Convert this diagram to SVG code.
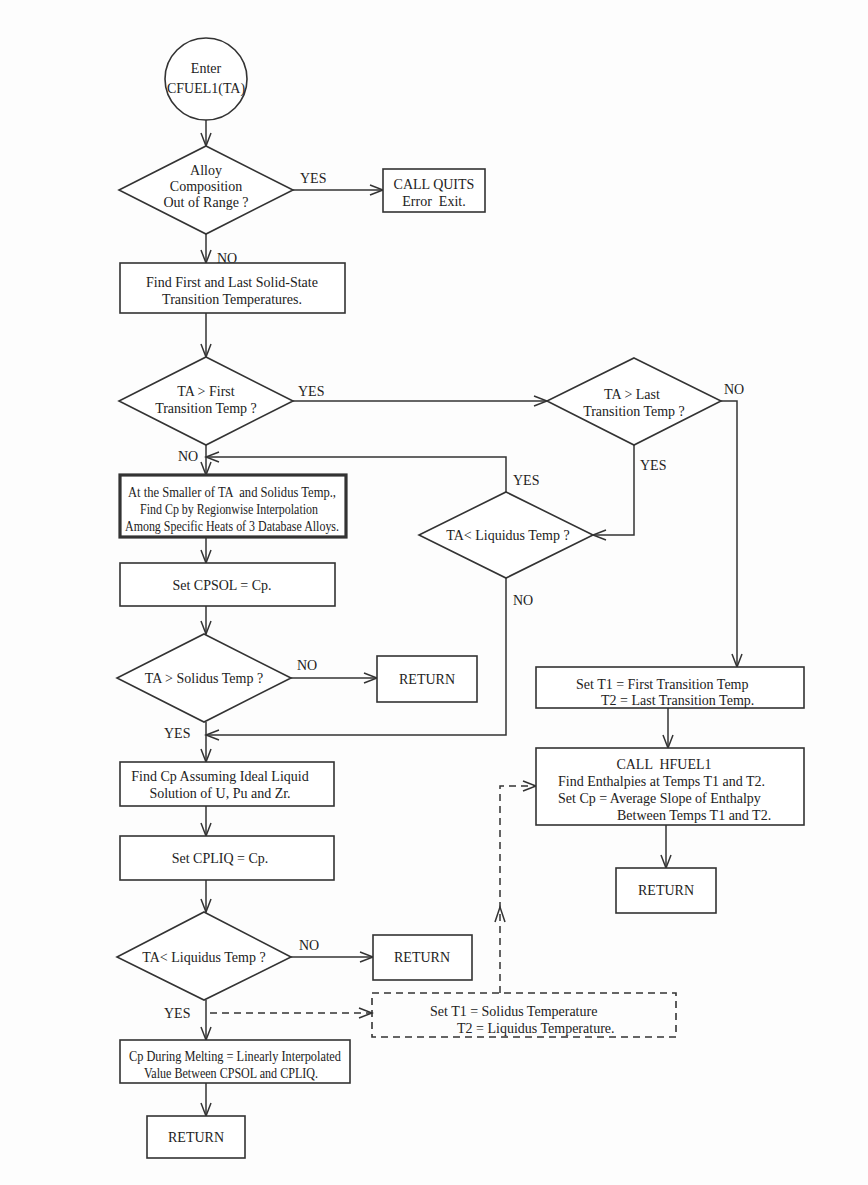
<svg xmlns="http://www.w3.org/2000/svg" width="868" height="1185" viewBox="0 0 868 1185">
<defs>
<style>
.shape{fill:#fff;stroke:#333;stroke-width:1.6}
.thick{fill:#fff;stroke:#333;stroke-width:3.2}
.dbox{fill:none;stroke:#333;stroke-width:1.6;stroke-dasharray:7,5}
.ln{fill:none;stroke:#333;stroke-width:1.5}
.dl{fill:none;stroke:#333;stroke-width:1.5;stroke-dasharray:7,5}
text{font-family:"Liberation Serif","Times New Roman",serif;font-size:14px;fill:#222}
.c{text-anchor:middle}
</style>
<marker id="ah" markerUnits="userSpaceOnUse" markerWidth="16" markerHeight="14" refX="14" refY="6" orient="auto">
<path d="M1,1 L14,6 L1,11" fill="none" stroke="#333" stroke-width="1.5"/>
</marker>
</defs>
<rect width="868" height="1185" fill="#fdfdfd"/>

<g id="connectors">
<path class="ln" d="M206,120 V146" marker-end="url(#ah)"/>
<path class="ln" d="M293,190 H383" marker-end="url(#ah)"/>
<path class="ln" d="M206,234 V263" marker-end="url(#ah)"/>
<path class="ln" d="M206,313 V357" marker-end="url(#ah)"/>
<path class="ln" d="M293,401 H547" marker-end="url(#ah)"/>
<path class="ln" d="M721,401 H737 V667" marker-end="url(#ah)"/>
<path class="ln" d="M634,445 V535 H593" marker-end="url(#ah)"/>
<path class="ln" d="M506,492 V457 H206" marker-end="url(#ah)"/>
<path class="ln" d="M206,445 V475" marker-end="url(#ah)"/>
<path class="ln" d="M206,537 V563" marker-end="url(#ah)"/>
<path class="ln" d="M206,606 V634" marker-end="url(#ah)"/>
<path class="ln" d="M291,678 H377" marker-end="url(#ah)"/>
<path class="ln" d="M506,578 V735 H206" marker-end="url(#ah)"/>
<path class="ln" d="M206,722 V762" marker-end="url(#ah)"/>
<path class="ln" d="M206,806 V836" marker-end="url(#ah)"/>
<path class="ln" d="M206,880 V912" marker-end="url(#ah)"/>
<path class="ln" d="M291,957 H373" marker-end="url(#ah)"/>
<path class="ln" d="M206,1000 V1040" marker-end="url(#ah)"/>
<path class="dl" d="M210,1013 H372" marker-end="url(#ah)"/>
<path class="dl" d="M500,993 V786 H536" marker-end="url(#ah)"/>
<path class="ln" d="M495,922 L500,907 L505,922"/>
<path class="ln" d="M206,1083 V1116" marker-end="url(#ah)"/>
<path class="ln" d="M668,708 V748" marker-end="url(#ah)"/>
<path class="ln" d="M666,825 V868" marker-end="url(#ah)"/>
<text x="300" y="183">YES</text>
<text x="217" y="263">NO</text>
<text x="298" y="396">YES</text>
<text x="724" y="394">NO</text>
<text x="640" y="470">YES</text>
<text x="513" y="485">YES</text>
<text x="178" y="461">NO</text>
<text x="513" y="605">NO</text>
<text x="297" y="670">NO</text>
<text x="164" y="738">YES</text>
<text x="299" y="950">NO</text>
<text x="164" y="1018">YES</text>
</g>

<g id="start">
<circle class="shape" cx="206" cy="79" r="41"/>
<text class="c" x="206" y="73">Enter</text>
<text class="c" x="206" y="93">CFUEL1(TA)</text>
</g>

<g id="d-alloy">
<polygon class="shape" points="206,146 293,190 206,234 119,190"/>
<text class="c" x="206" y="175">Alloy</text>
<text class="c" x="206" y="191">Composition</text>
<text class="c" x="206" y="207">Out of Range ?</text>
</g>

<g id="quits">
<rect class="shape" x="383" y="169" width="102" height="43"/>
<text class="c" x="434" y="189">CALL QUITS</text>
<text class="c" x="434" y="206" xml:space="preserve">Error  Exit.</text>
</g>

<g id="find-trans">
<rect class="shape" x="120" y="263" width="225" height="50"/>
<text class="c" x="232" y="287">Find First and Last Solid-State</text>
<text class="c" x="232" y="304">Transition Temperatures.</text>
</g>

<g id="d-first">
<polygon class="shape" points="206,357 293,401 206,445 119,401"/>
<text class="c" x="206" y="396">TA &gt; First</text>
<text class="c" x="206" y="413">Transition Temp ?</text>
</g>

<g id="d-last">
<polygon class="shape" points="634,358 721,401 634,445 547,401"/>
<text class="c" x="632" y="399">TA &gt; Last</text>
<text class="c" x="634" y="416">Transition Temp ?</text>
</g>

<g id="d-liq1">
<polygon class="shape" points="506,492 593,535 506,578 419,535"/>
<text class="c" x="508" y="540">TA&lt; Liquidus Temp ?</text>
</g>

<g id="interp-sol">
<rect class="thick" x="120" y="475" width="226" height="62"/>
<text class="c" x="232" y="497" xml:space="preserve" textLength="208" lengthAdjust="spacingAndGlyphs">At the Smaller of TA  and Solidus Temp.,</text>
<text class="c" x="229" y="514" textLength="178" lengthAdjust="spacingAndGlyphs">Find Cp by Regionwise Interpolation</text>
<text class="c" x="232" y="531" textLength="214" lengthAdjust="spacingAndGlyphs">Among Specific Heats of 3 Database Alloys.</text>
</g>

<g id="cpsol">
<rect class="shape" x="120" y="563" width="215" height="43"/>
<text class="c" x="222" y="590">Set CPSOL = Cp.</text>
</g>

<g id="d-sol">
<polygon class="shape" points="204,634 291,678 204,722 117,678"/>
<text class="c" x="204" y="683">TA &gt; Solidus Temp ?</text>
</g>

<g id="ret1">
<rect class="shape" x="377" y="656" width="100" height="46"/>
<text class="c" x="427" y="684">RETURN</text>
</g>

<g id="liq-cp">
<rect class="shape" x="120" y="762" width="214" height="44"/>
<text class="c" x="220" y="781">Find Cp Assuming Ideal Liquid</text>
<text class="c" x="220" y="798">Solution of U, Pu and Zr.</text>
</g>

<g id="cpliq">
<rect class="shape" x="120" y="836" width="214" height="44"/>
<text class="c" x="220" y="863">Set CPLIQ = Cp.</text>
</g>

<g id="d-liq2">
<polygon class="shape" points="204,912 291,957 204,1000 117,957"/>
<text class="c" x="204" y="962">TA&lt; Liquidus Temp ?</text>
</g>

<g id="ret2">
<rect class="shape" x="373" y="935" width="99" height="45"/>
<text class="c" x="422" y="962">RETURN</text>
</g>

<g id="set-sl">
<rect class="dbox" x="372" y="993" width="304" height="44"/>
<text x="430" y="1016">Set T1 = Solidus Temperature</text>
<text x="457" y="1033">T2 = Liquidus Temperature.</text>
</g>

<g id="melt">
<rect class="shape" x="120" y="1040" width="230" height="43"/>
<text class="c" x="235" y="1061" textLength="212" lengthAdjust="spacingAndGlyphs">Cp During Melting = Linearly Interpolated</text>
<text class="c" x="231" y="1078" textLength="174" lengthAdjust="spacingAndGlyphs">Value Between CPSOL and CPLIQ.</text>
</g>

<g id="ret3">
<rect class="shape" x="147" y="1116" width="98" height="42"/>
<text class="c" x="196" y="1142">RETURN</text>
</g>

<g id="set-tr">
<rect class="shape" x="536" y="667" width="268" height="41"/>
<text x="576" y="689">Set T1 = First Transition Temp</text>
<text x="601" y="705">T2 = Last Transition Temp.</text>
</g>

<g id="hfuel">
<rect class="shape" x="536" y="748" width="268" height="77"/>
<text class="c" x="664" y="769" xml:space="preserve">CALL  HFUEL1</text>
<text x="558" y="786">Find Enthalpies at Temps T1 and T2.</text>
<text x="558" y="803">Set Cp = Average Slope of Enthalpy</text>
<text x="617" y="820">Between Temps T1 and T2.</text>
</g>

<g id="ret4">
<rect class="shape" x="616" y="868" width="100" height="45"/>
<text class="c" x="666" y="895">RETURN</text>
</g>
</svg>
